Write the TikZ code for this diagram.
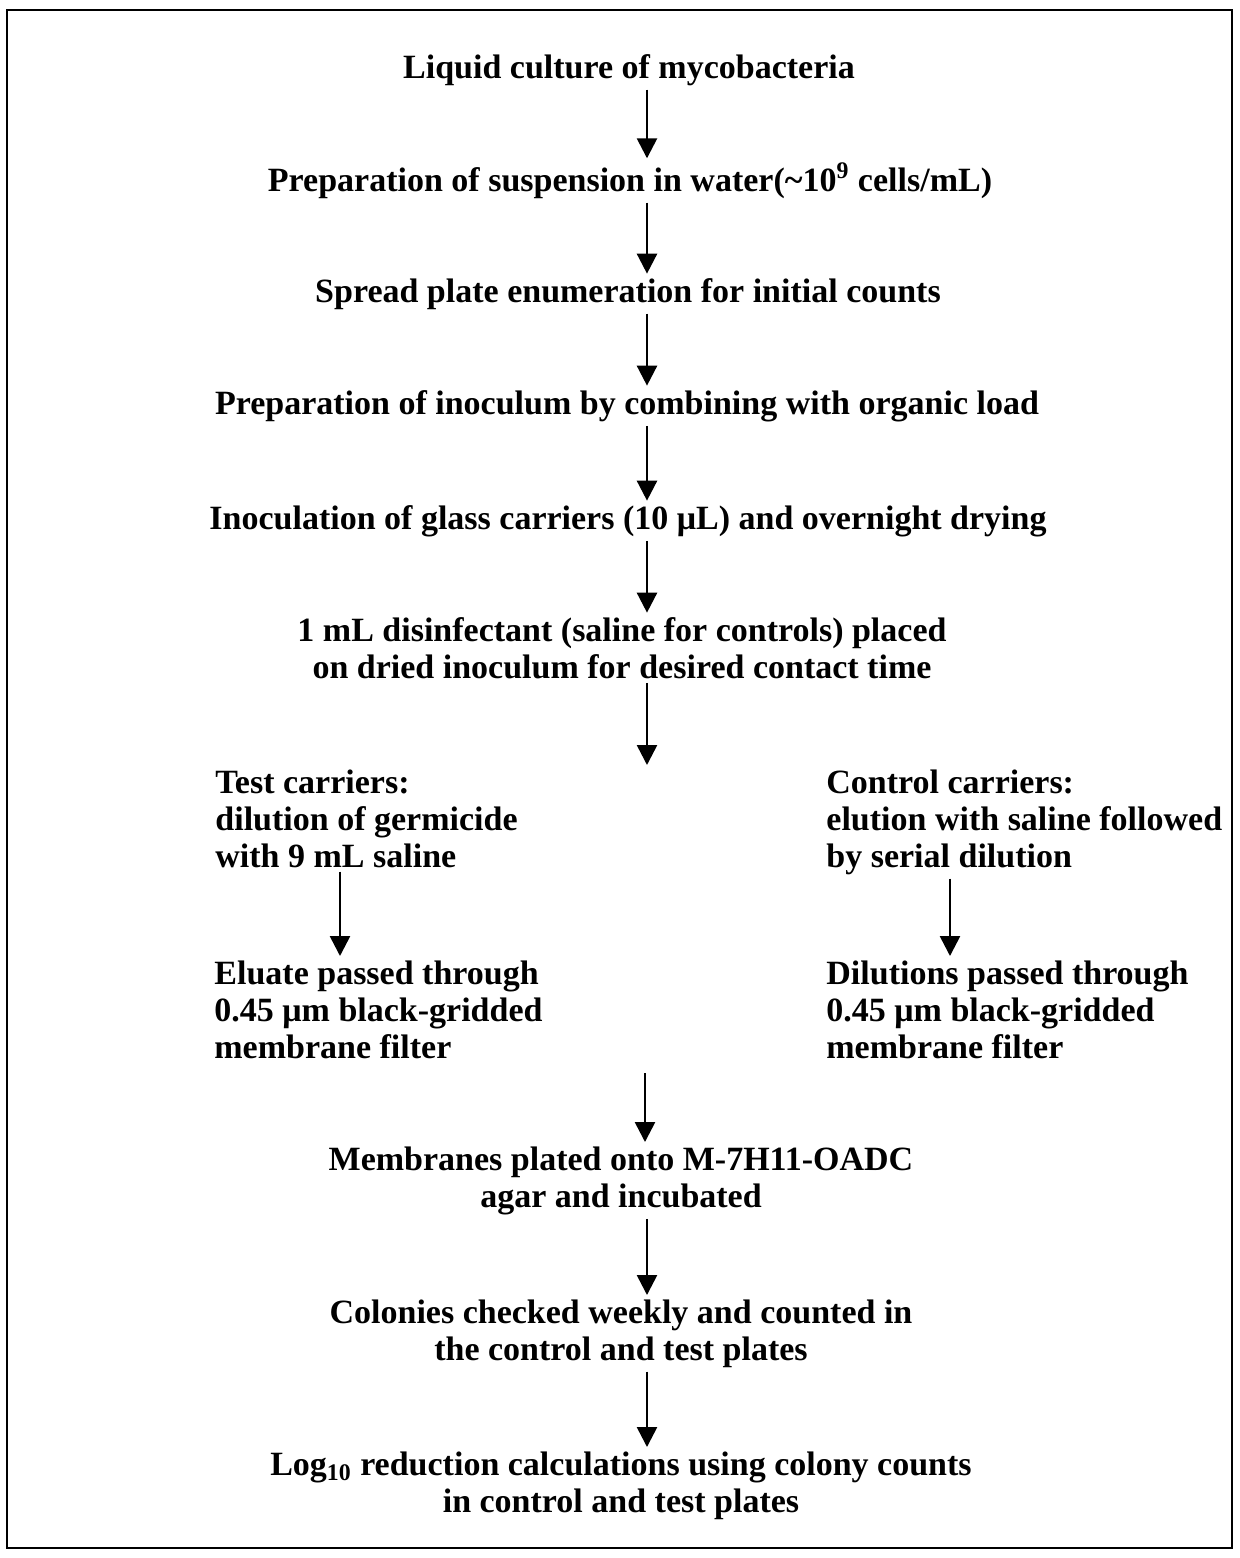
\documentclass[tikz,border=0pt]{standalone}
\usepackage{fontspec}
\setmainfont{Liberation Serif}
\usetikzlibrary{arrows.meta}
\tikzset{
  step text/.style={font=\bfseries\fontsize{17}{18.5}\selectfont, inner sep=2pt, align=center, anchor=base},
  col text/.style={step text, align=left, anchor=base west},
  flow/.style={-{Triangle[width=10pt,length=10pt]}, line width=1.3pt},
}
\begin{document}
\begin{tikzpicture}[x=0.5pt,y=-0.5pt]
\useasboundingbox (0,0) rectangle (1240,1558);
\draw[line width=1pt] (7,10) rectangle (1232,1548);
\coordinate (mid) at (647,0);
\coordinate (lx) at (340,0);
\coordinate (rx) at (950,0);
\node[step text] (liquid) at (629,78) {Liquid culture of mycobacteria};
\node[step text] (susp) at (630,191) {Preparation of suspension in water(\textasciitilde10\textsuperscript{9} cells/mL)};
\node[step text] (spread) at (628,302) {Spread plate enumeration for initial counts};
\node[step text] (inoc) at (627,414) {Preparation of inoculum by combining with organic load};
\node[step text] (glass) at (628,529) {Inoculation of glass carriers (10 μL) and overnight drying};
\node[step text] (disinf) at (622,678) {1 mL disinfectant (saline for controls) placed\\on dried inoculum for desired contact time};
\coordinate (split) at (647,765);
\node[col text] (test) at (211,867) {Test carriers:\\dilution of germicide\\with 9 mL saline};
\node[col text] (control) at (822,867) {Control carriers:\\elution with saline followed\\by serial dilution};
\node[col text] (eluate) at (210,1058) {Eluate passed through\\0.45 μm black-gridded\\membrane filter};
\node[col text] (dilut) at (822,1058) {Dilutions passed through\\0.45 μm black-gridded\\membrane filter};
\coordinate (join) at (645,1073);
\node[step text] (plated) at (621,1207) {Membranes plated onto M-7H11-OADC\\agar and incubated};
\node[step text] (colonies) at (621,1360) {Colonies checked weekly and counted in\\the control and test plates};
\node[step text] (logred) at (621,1512) {Log\textsubscript{10} reduction calculations using colony counts\\in control and test plates};
\draw[flow] (liquid.south -| mid) -- (susp.north -| mid);
\draw[flow] (susp.south -| mid) -- (spread.north -| mid);
\draw[flow] (spread.south -| mid) -- (inoc.north -| mid);
\draw[flow] (inoc.south -| mid) -- (glass.north -| mid);
\draw[flow] (glass.south -| mid) -- (disinf.north -| mid);
\draw[flow] (disinf.south -| mid) -- (split);
\draw[flow] (test.south -| lx) -- (eluate.north -| lx);
\draw[flow] (control.south -| rx) -- (dilut.north -| rx);
\draw[flow] (join) -- (plated.north -| join);
\draw[flow] (plated.south -| mid) -- (colonies.north -| mid);
\draw[flow] (colonies.south -| mid) -- (logred.north -| mid);
\end{tikzpicture}
\end{document}
